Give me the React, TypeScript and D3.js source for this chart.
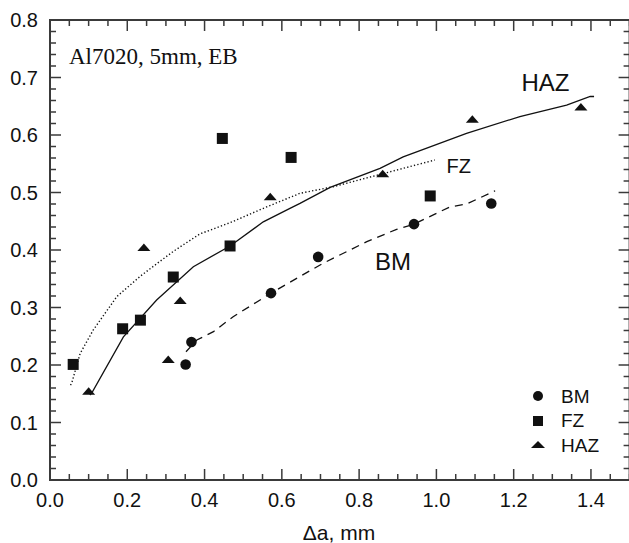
import React from "react";
import * as d3 from "d3";

// Scatter data (Δa, mm ; value)
const bmX = [0.351, 0.366, 0.572, 0.694, 0.942, 1.142];
const bmY = [0.201, 0.240, 0.325, 0.388, 0.445, 0.481];
const fzX = [0.060, 0.188, 0.234, 0.319, 0.466, 0.446, 0.624, 0.984];
const fzY = [0.201, 0.263, 0.278, 0.353, 0.407, 0.594, 0.561, 0.494];
const hazX = [0.100, 0.306, 0.337, 0.243, 0.570, 0.861, 1.093, 1.374];
const hazY = [0.155, 0.210, 0.3125, 0.405, 0.493, 0.533, 0.628, 0.649];

// Fitted curves
const hazLineX = [0.103, 0.108, 0.190, 0.276, 0.371, 0.466, 0.552, 0.621, 0.647, 0.725, 0.854, 0.914, 1.078, 1.216, 1.337, 1.398, 1.408];
const hazLineY = [0.148, 0.151, 0.249, 0.313, 0.371, 0.407, 0.449, 0.4725, 0.481, 0.509, 0.542, 0.562, 0.603, 0.632, 0.652, 0.667, 0.667];
const fzLineX = [0.053, 0.056, 0.078, 0.112, 0.173, 0.233, 0.280, 0.320, 0.388, 0.466, 0.561, 0.647, 0.733, 0.863, 0.996];
const fzLineY = [0.165, 0.168, 0.220, 0.261, 0.319, 0.354, 0.378, 0.398, 0.428, 0.4475, 0.475, 0.4986, 0.510, 0.533, 0.5565];
const bmLineX = [0.352, 0.380, 0.423, 0.474, 0.572, 0.647, 0.707, 0.820, 0.897, 0.942, 1.035, 1.078, 1.152];
const bmLineY = [0.223, 0.2435, 0.258, 0.284, 0.325, 0.354, 0.377, 0.4145, 0.436, 0.445, 0.475, 0.480, 0.503];

const xMajorTicks = [0, 0.2, 0.4, 0.6, 0.8, 1.0, 1.2, 1.4];
const yMajorTicks = [0, 0.1, 0.2, 0.3, 0.4, 0.5, 0.6, 0.7, 0.8];
const legendLabels = ["BM", "FZ", "HAZ"];

const W = 629, H = 543;
const x = d3.scaleLinear().domain([0, 1.5]).range([50, 629.6]);
const y = d3.scaleLinear().domain([0, 0.8]).range([480, 20]);

const AX = "#3a3a3a";
const INK = "#111";
const SANS = "'Liberation Sans', Arial, Helvetica, sans-serif";
const SERIF = "'Liberation Serif', 'Times New Roman', serif";

const zip = (a: number[], b: number[]) => a.map((v, i) => [v, b[i]] as [number, number]);
const line = d3.line<[number, number]>().x(d => x(d[0])).y(d => y(d[1]));

const tri = (cx: number, cy: number, w = 13, h = 7.5) =>
  `M${cx - w / 2},${cy + h / 2}L${cx + w / 2},${cy + h / 2}L${cx},${cy - h / 2}Z`;

export default function App() {
  const xMinor = d3.range(0, 1.5001, 0.05).filter(v => !xMajorTicks.some(m => Math.abs(m - v) < 1e-6));
  const yMinor = d3.range(0, 0.8001, 0.02).filter(v => !yMajorTicks.some(m => Math.abs(m - v) < 1e-6));
  const x0 = x(0), x1 = x(1.5), y0 = y(0), y1 = y(0.8);
  const MJ = 11, MN = 6;
  return (
    <svg width={W} height={H} style={{ position: "absolute", left: 0, top: 0, background: "#fff" }}>
      {/* ticks */}
      <g stroke={AX} strokeWidth={1.5}>
        {xMajorTicks.map(v => (
          <g key={"xm" + v}>
            <line x1={x(v)} x2={x(v)} y1={y0} y2={y0 - MJ} />
            <line x1={x(v)} x2={x(v)} y1={y1} y2={y1 + MJ} />
          </g>
        ))}
        {xMinor.map(v => (
          <g key={"xn" + v}>
            <line x1={x(v)} x2={x(v)} y1={y0} y2={y0 - MN} />
            <line x1={x(v)} x2={x(v)} y1={y1} y2={y1 + MN} />
          </g>
        ))}
        {yMajorTicks.map(v => (
          <g key={"ym" + v}>
            <line x1={x0} x2={x0 + MJ} y1={y(v)} y2={y(v)} />
            <line x1={x1} x2={x1 - MJ} y1={y(v)} y2={y(v)} />
          </g>
        ))}
        {yMinor.map(v => (
          <g key={"yn" + v}>
            <line x1={x0} x2={x0 + MN} y1={y(v)} y2={y(v)} />
            <line x1={x1} x2={x1 - MN} y1={y(v)} y2={y(v)} />
          </g>
        ))}
      </g>
      <rect x={x0} y={y1} width={x1 - x0} height={y0 - y1} fill="none" stroke={AX} strokeWidth={2} />

      {/* tick labels */}
      <g fontFamily={SANS} fontSize={20} fill={INK}>
        {xMajorTicks.map(v => (
          <text key={"xl" + v} x={x(v)} y={507} textAnchor="middle">{v.toFixed(1)}</text>
        ))}
        {yMajorTicks.map(v => (
          <text key={"yl" + v} x={38} y={y(v) + 7} textAnchor="end">{v.toFixed(1)}</text>
        ))}
      </g>
      <text x={339} y={540} textAnchor="middle" fontFamily={SANS} fontSize={21} fill={INK}>Δa, mm</text>

      {/* curves */}
      <path d={line(zip(hazLineX, hazLineY)) || ""} fill="none" stroke={INK} strokeWidth={1.3} />
      <path d={line(zip(fzLineX, fzLineY)) || ""} fill="none" stroke={INK} strokeWidth={1.4} strokeDasharray="1.3,2.2" />
      <path d={line(zip(bmLineX, bmLineY)) || ""} fill="none" stroke={INK} strokeWidth={1.3} strokeDasharray="8,6" />

      {/* markers */}
      <g fill={INK}>
        {bmX.map((v, i) => <circle key={"b" + i} cx={x(v)} cy={y(bmY[i])} r={5.3} />)}
        {fzX.map((v, i) => <rect key={"f" + i} x={x(v) - 5.5} y={y(fzY[i]) - 5.5} width={11} height={11} />)}
        {hazX.map((v, i) => <path key={"h" + i} d={tri(x(v), y(hazY[i]))} />)}
      </g>

      {/* annotations */}
      <text x={69} y={64} fontFamily={SERIF} fontSize={23} fill={INK}>Al7020, 5mm, EB</text>
      <text x={521.5} y={90.5} fontFamily={SANS} fontSize={24} fill={INK}>HAZ</text>
      <text x={446.5} y={172.5} fontFamily={SANS} fontSize={20} fill={INK}>FZ</text>
      <text x={375} y={270} fontFamily={SANS} fontSize={24} fill={INK}>BM</text>

      {/* legend */}
      <g fill={INK} fontFamily={SANS} fontSize={19}>
        <circle cx={538} cy={396} r={5} />
        <rect x={533} y={416} width={10} height={10} />
        <path d={tri(538, 444.5, 14, 7)} />
        {legendLabels.map((t, i) => (
          <text key={t} x={561} y={402.5 + i * 24.5}>{t}</text>
        ))}
      </g>
    </svg>
  );
}
